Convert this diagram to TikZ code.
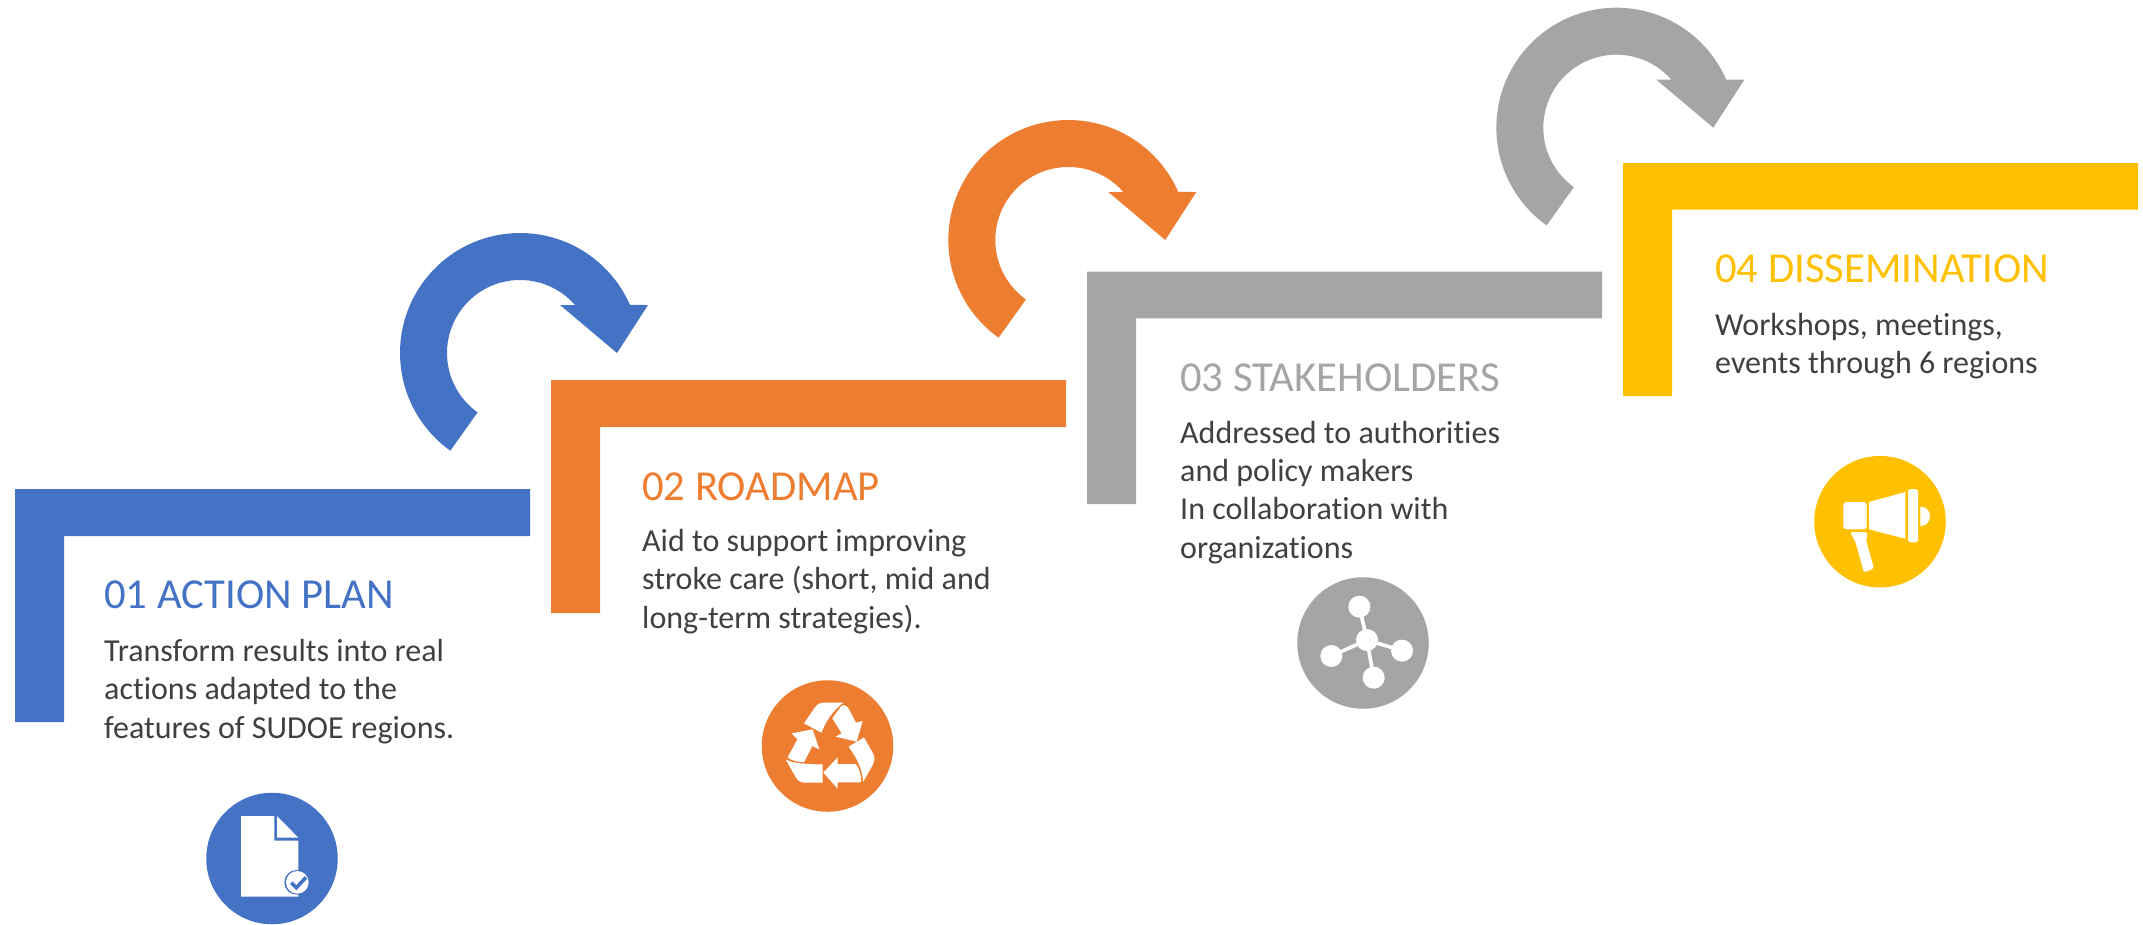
\documentclass[tikz,border=0pt]{standalone}
\usepackage{fontspec}
\setmainfont[Ligatures=NoCommon]{Carlito}
\definecolor{cblue}{HTML}{4472C4}
\definecolor{corange}{HTML}{ED7D31}
\definecolor{cgrey}{HTML}{A5A5A5}
\definecolor{cyellow}{HTML}{FFC000}
\definecolor{ctext}{HTML}{404040}
\tikzset{
  titletext/.style={anchor=base west,inner sep=0pt,font=\fontsize{42.7}{50}\selectfont},
  bodytext/.style={anchor=base west,inner sep=0pt,align=left,text=ctext,font=\fontsize{32}{38.3}\selectfont},
  disc/.style={circle,minimum size=131.5pt,inner sep=0pt,fill=#1},
  iconfill/.style={fill=white,draw=none},
}
\newcommand{\turnarrow}[3]{%
  \begin{scope}[shift={(#1,#2)},y=1pt]
    \fill[#3] (234.5:120) arc[start angle=234.5,end angle=23.6,radius=120]
      -- (128,48) -- (97,0) -- (40,48) -- (55,48)
      arc[start angle=41.1,end angle=234.5,radius=73] -- cycle;
  \end{scope}}
\newcommand{\stepL}[7]{% left, top, inner x, inner y, right, bottom, colour
  \fill[#7] (#1,#2) -- (#5,#2) -- (#5,#4) -- (#3,#4) -- (#3,#6) -- (#1,#6) -- cycle;}
\begin{document}
\begin{tikzpicture}[x=1pt,y=-1pt]
\useasboundingbox (0,0) rectangle (2143,924);
% steps
\stepL{15}{489}{64}{536}{530}{722}{cblue}
\stepL{551}{380}{600}{427}{1066}{613}{corange}
\stepL{1087}{271.5}{1136}{318.3}{1602}{504}{cgrey}
\stepL{1623}{163}{1672}{209.5}{2138}{396}{cyellow}
% arrows
\turnarrow{520}{353}{cblue}
\turnarrow{1068.3}{240}{corange}
\turnarrow{1616.3}{127.7}{cgrey}
% texts
\node[titletext,text=cblue] (t1) at (104,608) {01 ACTION PLAN};
\node[bodytext] (b1) at (104,738) {Transform results into real\\actions adapted to the\\features of SUDOE regions.};
\node[titletext,text=corange] (t2) at (642,500) {02 ROADMAP};
\node[bodytext] (b2) at (642,628) {Aid to support improving\\stroke care (short, mid and\\long-term strategies).};
\node[titletext,text=cgrey] (t3) at (1180,391) {03 STAKEHOLDERS};
\node[bodytext] (b3) at (1180,558) {Addressed to authorities\\and policy makers\\In collaboration with\\organizations};
\node[titletext,text=cyellow] (t4) at (1715,282.7) {04 DISSEMINATION};
\node[bodytext] (b4) at (1715,373.3) {Workshops, meetings,\\events through 6 regions};
% discs
\node[disc=cblue] (d1) at (272,858.5) {};
\node[disc=corange] (d2) at (827.5,746) {};
\node[disc=cgrey] (d3) at (1363,643) {};
\node[disc=cyellow] (d4) at (1880,521.7) {};
% document icon
\begin{scope}[shift={(180,770)},scale=1/3]
  \fill[iconfill] (183,138) -- (283,138) -- (283,212) -- (355,212) -- (355,380) -- (183,380) -- cycle;
  \fill[iconfill] (291,138) -- (355,203) -- (291,203) -- cycle;
  \fill[cblue] (350,337) circle[radius=37];
  \fill[white] (352,337) circle[radius=34];
  \draw[cblue,line width=3.6pt,line join=miter] (334,338) -- (349,353) -- (378,322);
\end{scope}
% recycle icon
\begin{scope}[shift={(720,650)},scale=1/3]
  \fill[iconfill] (252,220) -- (285,172) .. controls (292,162) and (300,158) .. (312,158) -- (370,158) .. controls (340,180) and (320,210) .. (304,248) -- cycle;
  \fill[iconfill] (337,205) -- (362,170) .. controls (370,162) and (380,166) .. (386,176) -- (408,218) -- (428,213) -- (410,275) -- (347,260) -- (365,250) -- cycle;
  \fill[iconfill] (386,290) -- (432,262) -- (460,312) .. controls (465,322) and (464,332) .. (458,345) -- (430,395) .. controls (425,350) and (410,325) .. (386,290) -- cycle;
  \fill[iconfill] (310,368) -- (353,322) -- (353,342) -- (405,342) .. controls (415,345) and (428,385) .. (422,397) -- (353,397) -- (353,416) -- cycle;
  \fill[iconfill] (197,328) .. controls (215,340) and (260,343) .. (308,343) -- (308,398) -- (255,398) .. controls (238,398) and (232,390) .. (225,378) -- cycle;
  \fill[iconfill] (203,322) -- (232,268) -- (215,250) -- (278,238) -- (298,298) -- (277,288) -- (252,337) .. controls (230,336) and (212,330) .. (203,322) -- cycle;
\end{scope}
% network icon
\begin{scope}[shift={(1270,560)},scale=1/3]
  \draw[white,line width=3.6pt] (291,240) -- (268,140) (291,240) -- (184,288) (291,240) -- (396,272) (291,240) -- (311,353);
  \fill[iconfill] (291,240) circle[radius=33] (268,140) circle[radius=33] (184,288) circle[radius=33] (396,272) circle[radius=33] (311,353) circle[radius=33];
\end{scope}
% megaphone icon
\begin{scope}[shift={(1790,440)},scale=1/3]
  \fill[iconfill,rounded corners=3pt] (160,186) -- (230,186) -- (230,268) -- (160,268) -- cycle;
  \fill[iconfill] (237,186) -- (346,156) -- (346,296) -- (237,268) -- cycle;
  \fill[iconfill,rounded corners=2.5pt] (354,147) -- (384,147) -- (384,307) -- (354,307) -- cycle;
  \fill[iconfill] (391,200) .. controls (410,200) and (420,214) .. (420,229) .. controls (420,244) and (410,258) .. (391,258) -- cycle;
  \fill[iconfill,rounded corners=2.5pt] (180,276) -- (232,276) -- (232,292) -- (227,297) -- (252,385) -- (222,398) -- (196,305) -- cycle;
\end{scope}
\end{tikzpicture}
\end{document}
